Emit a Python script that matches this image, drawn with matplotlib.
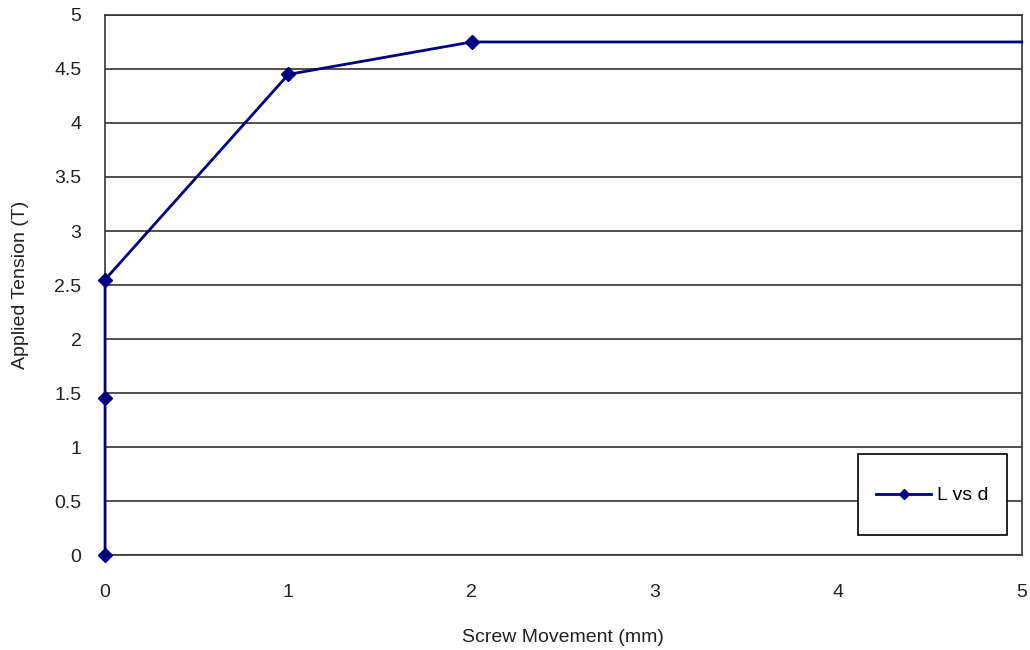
import matplotlib.pyplot as plt
import numpy as np

plt.rcParams['font.family'] = ['Liberation Sans', 'DejaVu Sans']

# screw movement (mm) vs applied tension (T)
movement = [0, 0, 0, 1, 2, 5]
tension = [0, 1.45, 2.55, 4.45, 4.75, 4.75]
x_ticks = [0, 1, 2, 3, 4, 5]
y_ticks = [0, 0.5, 1, 1.5, 2, 2.5, 3, 3.5, 4, 4.5, 5]

fig = plt.figure(figsize=(10.3, 6.5), dpi=100)
ax = fig.add_axes([0.102, 0.146, 0.890, 0.831])

# last point only carries the line to the edge, no marker there
ax.plot(movement, tension, color="#000080", linewidth=2, marker="D", markersize=7,
        markevery=list(range(len(movement) - 1)), label="L vs d", clip_on=False, zorder=5)

ax.set_xlim(0, 5)
ax.set_ylim(0, 5)
ax.set_xticks(x_ticks, labels=[str(t) for t in x_ticks])
ax.set_yticks(y_ticks, labels=[f"{t:g}" for t in y_ticks])
ax.tick_params(length=0, labelsize=14, colors="#222222")
ax.tick_params(axis="y", pad=17)
ax.tick_params(axis="x", pad=21)

# horizontal gridlines only
ax.yaxis.grid(True, color="#333333", linewidth=1.2)
ax.set_axisbelow(True)
for side in ["left", "right", "top", "bottom"]:
    ax.spines[side].set_color("#333333")
    ax.spines[side].set_linewidth(1.2)

ax.set_xlabel("Screw Movement (mm)", fontsize=14, color="#222222", labelpad=20)
ax.set_ylabel("Applied Tension (T)", fontsize=14, color="#222222", labelpad=18)

fs = 14
hh = 3.1
leg = ax.legend(loc="lower right", bbox_to_anchor=(0.9836, 0.037), fontsize=fs,
                fancybox=False, framealpha=1, edgecolor="black",
                borderpad=0.95, borderaxespad=0, handlelength=2.8, handleheight=hh,
                handletextpad=0.3, markerscale=0.7)
leg.get_frame().set_linewidth(1.2)

# a tall handle box sits above the text baseline; bring the sample line back level with the text
handle = leg.legend_handles[0]
offset = 0.5 * fs * hh - 0.35 * fs * (hh - 0.7) - 0.35 * fs
handle.set_ydata(np.asarray(handle.get_ydata()) - offset)

fig.savefig("out.png", dpi=100)
